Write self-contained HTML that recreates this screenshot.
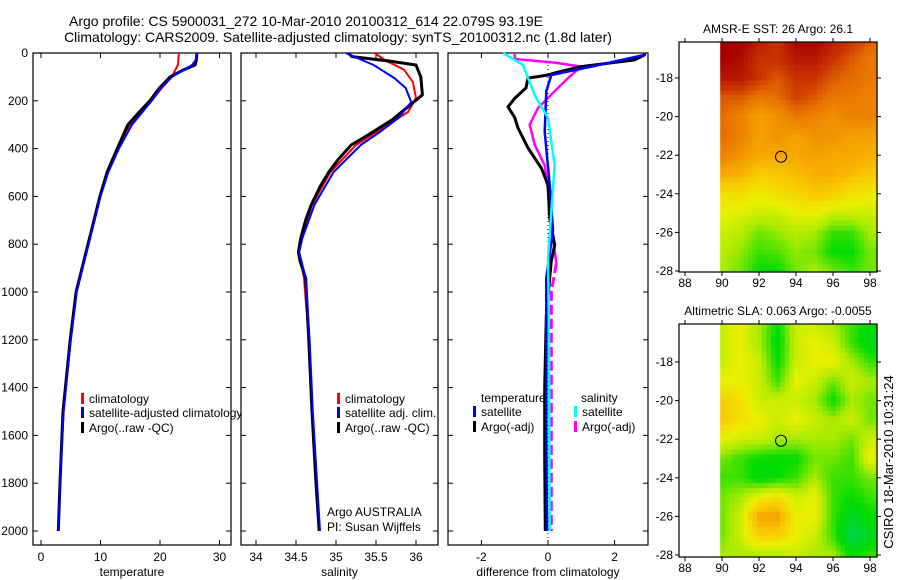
<!DOCTYPE html>
<html><head><meta charset="utf-8"><style>
html,body{margin:0;padding:0;background:#fff;}
svg{display:block;font-family:"Liberation Sans",sans-serif;}
</style></head><body>
<svg id="fig" width="900" height="580" viewBox="0 0 900 580">
<rect width="900" height="580" fill="#fff"/>
<text x="306" y="26" font-size="14" text-anchor="middle">Argo profile: CS 5900031_272 10-Mar-2010 20100312_614 22.079S 93.19E</text>
<text x="338" y="42" font-size="14" text-anchor="middle">Climatology: CARS2009. Satellite-adjusted climatology: synTS_20100312.nc (1.8d later)</text>
<g id="panels"></g>
<text transform="translate(893,462) rotate(-90)" font-size="13" text-anchor="middle">CSIRO 18-Mar-2010 10:31:24</text>
</svg>
<script>
// ---------- data ----------
const depthTicks = [0,200,400,600,800,1000,1200,1400,1600,1800,2000];
const tempTicks = [0,10,20,30];
const salTicks = [34,34.5,35,35.5,36];
const diffTicks = [-2,0,2];
// temperature panel
const tArgoDepth = [0,30,50,70,100,150,200,250,300,400,500,600,700,800,1000,1200,1500,1800,2000];
const tArgoVal   = [26.2,26.1,25.9,24,21.7,19.8,18.3,16.4,14.6,12.8,11.1,9.9,8.9,7.9,5.9,4.9,3.7,3.2,2.9];
const tClimDepth = [0,50,100,150,200,300,400,500,600,800,1000,1200,1500,1800,2000];
const tClimVal   = [23.2,23.0,22.0,20.2,18.6,15.0,12.9,11.2,10.0,8.0,6.0,5.0,3.8,3.2,2.9];
const tSatDepth  = [0,30,50,100,150,200,300,400,500,600,800,1000,1200,1500,1800,2000];
const tSatVal    = [26.2,26.0,25.4,22.0,20.0,18.6,15.3,13.1,11.3,10.0,8.0,6.0,5.0,3.8,3.2,2.9];
// salinity panel
const sArgoDepth = [0,15,33,50,100,175,225,280,343,385,440,498,560,636,700,774,833,870,941,1000,1200,1500,1800,2000];
const sArgoVal   = [35.15,35.2,35.65,36.0,36.06,36.08,35.9,35.7,35.4,35.19,35.04,34.91,34.8,34.69,34.62,34.56,34.53,34.55,34.62,34.63,34.66,34.7,34.75,34.79];
const sClimDepth = [0,33,70,121,188,247,300,385,498,636,774,833,941,1200,1500,2000];
const sClimVal   = [35.48,35.63,35.85,35.96,36.0,35.9,35.65,35.25,34.93,34.7,34.57,34.54,34.6,34.66,34.7,34.79];
const sSatDepth  = [0,50,105,146,205,272,330,385,498,636,774,833,941,1200,1500,2000];
const sSatVal    = [35.12,35.47,35.73,35.87,35.94,35.78,35.55,35.31,34.97,34.73,34.58,34.54,34.62,34.67,34.71,34.8];
// difference panel
const dTArgoDepth = [0,8,29,57,80,92,105,146,190,225,270,314,397,481,552,690,803,870,941,1100,1400,1700,2000];
const dTArgoVal   = [2.9,2.9,2.6,1.0,0.3,0,-0.6,-0.66,-1.0,-1.2,-1.0,-0.9,-0.6,-0.2,0,0.05,0.2,0.1,0.05,-0.05,-0.1,-0.1,-0.08];
const dTSatDepth  = [0,8,57,92,160,330,552,740,941,1200,1600,2000];
const dTSatVal    = [2.9,2.9,1.3,0.1,-0.05,-0.1,0.05,0.15,-0.05,-0.05,-0.05,-0.03];
const dSArgoDepth = [0,25,40,57,105,146,230,300,384,470,570,775,880];
const dSArgoVal   = [-1.0,-1.0,0.2,1.0,0.6,0.3,-0.3,-0.55,-0.4,-0.1,0.0,0.15,0.25];
const dSArgoDeepDepth = [880,1000,1300,1600,2000];
const dSArgoDeepVal   = [0.25,0.1,0.1,0.1,0.1];
const dSSatDepth  = [0,50,105,188,272,470,665,860,1200,1600,2000];
const dSSatVal    = [-1.35,-0.75,-0.6,-0.36,0,0.2,0.1,0,0.03,0.04,0.05];
// maps: rows lat -16..-28, cols lon 90..98 (normalized colour value 0=green..1=dark red)
const mapLats = [-16,-17,-18,-19,-20,-21,-22,-23,-24,-25,-26,-27,-28];
const mapLons = [90,91,92,93,94,95,96,97,98];
const sstGrid = [
[1,1,.95,.9,1,1,.95,.9,.85],
[1,.98,.9,.9,.95,.95,.9,.85,.8],
[.95,.95,.9,.85,.9,.9,.85,.82,.8],
[.85,.85,.8,.82,.88,.85,.8,.8,.78],
[.82,.78,.72,.75,.8,.78,.75,.78,.78],
[.82,.78,.72,.75,.72,.75,.75,.72,.72],
[.78,.75,.7,.7,.7,.72,.7,.7,.68],
[.7,.68,.6,.62,.65,.68,.68,.65,.62],
[.55,.55,.52,.55,.58,.62,.6,.55,.52],
[.5,.48,.45,.45,.5,.5,.45,.45,.45],
[.45,.42,.35,.38,.42,.4,.3,.3,.4],
[.42,.38,.3,.32,.38,.35,.25,.25,.35],
[.4,.35,.25,.25,.35,.4,.35,.3,.35]];
const slaGrid = [
[.45,.5,.4,.25,.45,.45,.4,.3,.25],
[.45,.5,.4,.22,.45,.5,.45,.3,.2],
[.45,.5,.45,.25,.45,.5,.5,.4,.3],
[.5,.5,.45,.3,.5,.45,.35,.45,.4],
[.6,.55,.45,.45,.45,.4,.25,.4,.35],
[.62,.55,.5,.45,.5,.45,.4,.45,.35],
[.5,.45,.45,.4,.4,.4,.4,.35,.45],
[.35,.3,.25,.25,.25,.35,.35,.3,.5],
[.3,.3,.22,.25,.3,.4,.3,.3,.35],
[.35,.4,.5,.55,.45,.5,.3,.25,.3],
[.35,.45,.7,.72,.5,.5,.3,.2,.25],
[.35,.45,.6,.6,.5,.45,.3,.12,.2],
[.4,.4,.4,.4,.45,.4,.4,.25,.3]];
const mapLatTicks = [-18,-20,-22,-24,-26,-28];
const mapLonTicks = [88,90,92,94,96,98];
const argoPos = [93.19,-22.08];

// ---------- drawing ----------
const NS='http://www.w3.org/2000/svg';
const root=document.getElementById('panels');
function el(tag,attrs,parent){const e=document.createElementNS(NS,tag);for(const k in attrs)e.setAttribute(k,attrs[k]);(parent||root).appendChild(e);return e;}
const yD = d => 53 + d*0.239;
const TOP=53, BOT=545;

function panel(name,x0,x1,xs,ticks,tickFmt,label,yLabels){
  const g=el('g',{});
  
  
  el('rect',{x:x0,y:TOP,width:x1-x0,height:BOT-TOP,fill:'#fff',stroke:'#000','stroke-width':1.2},g);
  ticks.forEach(t=>{const x=xs(t);
    el('line',{x1:x,x2:x,y1:TOP,y2:TOP+5,stroke:'#000'},g);
    el('line',{x1:x,x2:x,y1:BOT,y2:BOT-5,stroke:'#000'},g);
    const tx=el('text',{x:x,y:561,'font-size':12,'text-anchor':'middle'},g);tx.textContent=tickFmt(t);
    
    
  });
  depthTicks.forEach(d=>{const y=yD(d);
    el('line',{x1:x0,x2:x0+5,y1:y,y2:y,stroke:'#000'},g);
    el('line',{x1:x1,x2:x1-5,y1:y,y2:y,stroke:'#000'},g);
    if(yLabels){const t=el('text',{x:x0-5,y:y+4,'font-size':12,'text-anchor':'end'},g);t.textContent=d;
      
      }
  });
  const lb=el('text',{x:(x0+x1)/2,y:576,'font-size':12,'text-anchor':'middle'},g);lb.textContent=label;
  
  
  return g;
}
function line(g,name,xs,vals,depths,color,w,dash){
  const pts=vals.map((v,i)=>xs(v).toFixed(1)+','+yD(depths[i]).toFixed(1)).join(' ');
  const p=el('polyline',{points:pts,fill:'none',stroke:color,'stroke-width':w,'stroke-linejoin':'round'},g);
  if(dash)p.setAttribute('stroke-dasharray',dash);
  
  
}
function legend(g,x,y,color,text){
  const r=el('rect',{x:x,y:y-10,width:3,height:11,fill:color},g);
  
  
  const t=el('text',{x:x+8,y:y,'font-size':12},g);t.textContent=text;
  
  
}

// Panel 1 temperature
const xT=v=>41+v*5.95;
const g1=panel('temperature-panel',33,231,xT,tempTicks,t=>t,'temperature',true);
line(g1,'temp-climatology-line',xT,tClimVal,tClimDepth,'#f00',2);
line(g1,'temp-argo-line',xT,tArgoVal,tArgoDepth,'#000',3);
line(g1,'temp-satellite-line',xT,tSatVal,tSatDepth,'#00f',2);
legend(g1,81,403,'#f00','climatology');
legend(g1,81,417,'#00f','satellite-adjusted climatology');
legend(g1,81,432,'#000','Argo(..raw -QC)');

// Panel 2 salinity
const xS=v=>256+(v-34)*80;
const g2=panel('salinity-panel',241,438,xS,salTicks,t=>t,'salinity',false);
line(g2,'sal-climatology-line',xS,sClimVal,sClimDepth,'#f00',2);
line(g2,'sal-argo-line',xS,sArgoVal,sArgoDepth,'#000',3);
line(g2,'sal-satellite-line',xS,sSatVal,sSatDepth,'#00f',2);
legend(g2,337,403,'#f00','climatology');
legend(g2,337,417,'#00f','satellite adj. clim.');
legend(g2,337,432,'#000','Argo(..raw -QC)');
[['Argo AUSTRALIA',516],['PI: Susan Wijffels',531]].forEach(([s,y])=>{const t=el('text',{x:327,y:y,'font-size':12},g2);t.textContent=s;
  
  });

// Panel 3 difference
const xD=v=>548+v*33.3;
const g3=panel('difference-panel',448,648,xD,diffTicks,t=>t,'difference from climatology',false);
el('line',{x1:xD(0),x2:xD(0),y1:TOP,y2:BOT,stroke:'#000','stroke-dasharray':'1,3'},g3);
line(g3,'diff-sal-argo-line',xD,dSArgoVal,dSArgoDepth,'#f0f',2.5);
line(g3,'diff-sal-argo-deep-line',xD,dSArgoDeepVal,dSArgoDeepDepth,'#f0f',3,'10,4');
line(g3,'diff-temp-argo-line',xD,dTArgoVal,dTArgoDepth,'#000',3);
line(g3,'diff-temp-satellite-line',xD,dTSatVal,dTSatDepth,'#00f',2.5);
line(g3,'diff-sal-satellite-line',xD,dSSatVal,dSSatDepth,'#0ff',2.5);
[['temperature',481],['salinity',581]].forEach(([s,x])=>{const t=el('text',{x:x,y:402,'font-size':12},g3);t.textContent=s;
  
  });
legend(g3,473,416,'#00f','satellite');
legend(g3,473,431,'#000','Argo(-adj)');
legend(g3,574,416,'#0ff','satellite');
legend(g3,574,431,'#f0f','Argo(-adj)');

// Maps
const stops=[[0,[0,200,160]],[0.25,[0,220,0]],[0.4,[170,235,0]],[0.5,[235,240,0]],[0.62,[250,200,0]],[0.72,[245,160,0]],[0.82,[230,110,0]],[0.9,[200,50,0]],[1,[165,0,0]]];
function cmap(v){v=Math.max(0,Math.min(1,v));for(let i=1;i<stops.length;i++){if(v<=stops[i][0]){const a=stops[i-1],b=stops[i],f=(v-a[0])/(b[0]-a[0]);return 'rgb('+a[1].map((c,k)=>Math.round(c+(b[1][k]-c)*f)).join(',')+')';}}return 'rgb(165,0,0)';}
function sample(grid,lon,lat){
  let fi=Math.max(0,Math.min(mapLats.length-1.001,(mapLats[0]-lat)));
  let fj=Math.max(0,Math.min(mapLons.length-1.001,(lon-mapLons[0])));
  const i=Math.floor(fi),j=Math.floor(fj),a=fi-i,b=fj-j;
  return grid[i][j]*(1-a)*(1-b)+grid[i+1][j]*a*(1-b)+grid[i][j+1]*(1-a)*b+grid[i+1][j+1]*a*b;
}
function map(name,title,grid,top,bot,lat18y){
  const g=el('g',{});
  
  
  const xL=lon=>685+(lon-88)*18.5, yL=lat=>lat18y+(-18-lat)*19.3;
  const lonMin=89.9,lonMax=98.4, latTop=-18+(lat18y-top)/19.3, latBot=-18-(bot-lat18y)/19.3;
  const step=0.25;
  for(let lat=latTop;lat>latBot;lat-=step){
    for(let lon=lonMin;lon<lonMax;lon+=step){
      const v=sample(grid,lon+step/2,lat-step/2);
      const x=xL(lon),y=yL(lat),w=Math.min(xL(lon+step),877)-x,h=Math.min(yL(lat-step),bot)-y;
      const c=el('rect',{x:x.toFixed(1),y:y.toFixed(1),width:(w+0.6).toFixed(1),height:(h+0.6).toFixed(1),fill:cmap(v)},g);
      
      
    }
  }
  el('rect',{x:679,y:top,width:198,height:bot-top,fill:'none',stroke:'#000','stroke-width':1.2},g);
  mapLonTicks.forEach(l=>{const x=xL(l);
    el('line',{x1:x,x2:x,y1:bot,y2:bot+4,stroke:'#000'},g);el('line',{x1:x,x2:x,y1:top,y2:top-4,stroke:'#000'},g);
    const t=el('text',{x:x,y:bot+15,'font-size':12,'text-anchor':'middle'},g);t.textContent=l;
    
    });
  mapLatTicks.forEach(l=>{const y=yL(l);
    el('line',{x1:679,x2:675,y1:y,y2:y,stroke:'#000'},g);el('line',{x1:877,x2:881,y1:y,y2:y,stroke:'#000'},g);
    const t=el('text',{x:673,y:y+4,'font-size':12,'text-anchor':'end'},g);t.textContent=l;
    
    });
  const c=el('circle',{cx:xL(argoPos[0]),cy:yL(argoPos[1]),r:5.5,fill:'none',stroke:'#000'},g);
  
  
  const t=el('text',{x:778,y:top-9,'font-size':12,'text-anchor':'middle'},g);t.textContent=title;
  
  
}
map('sst-map','AMSR-E SST: 26 Argo: 26.1',sstGrid,42,272,78);
map('sla-map','Altimetric SLA: 0.063 Argo: -0.0055',slaGrid,324,557,362);
</script>
</body></html>
